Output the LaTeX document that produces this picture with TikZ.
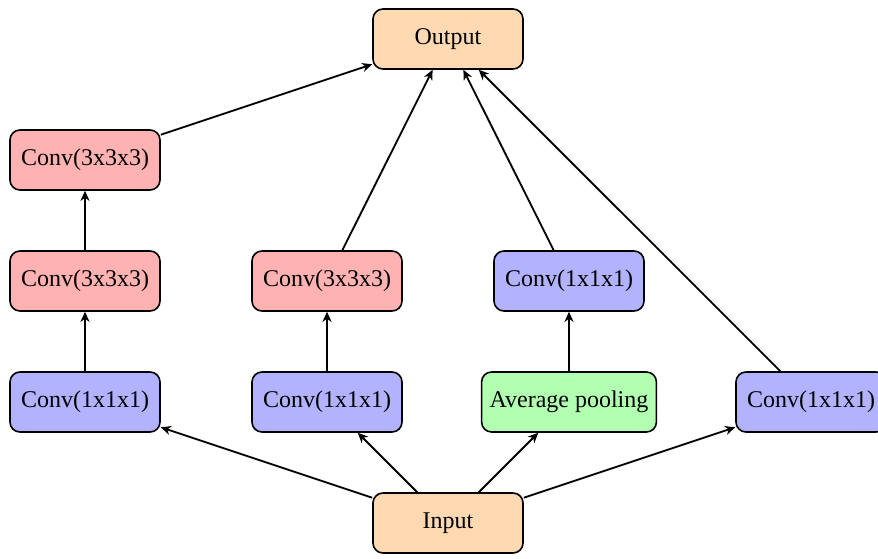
\documentclass[tikz,border=0pt]{standalone}
\usepackage{fontspec}
\setmainfont{Liberation Serif}
\usetikzlibrary{arrows.meta}

\begin{document}
\begin{tikzpicture}[x=60.5pt, y=60.5pt, >={Stealth[length=5pt,width=4.5pt,inset=1.5pt]},
  block/.style={draw, thick, rounded corners=5pt, minimum width=75pt,
    minimum height=30pt, inner xsep=4pt, font=\fontsize{12}{14}\selectfont},
  conv/.style={block, fill=red!30},
  reduce/.style={block, fill=blue!30},
  pool/.style={block, fill=green!30},
  io/.style={block, fill=orange!30},
  flow/.style={->, line width=0.9pt}]

  \useasboundingbox (-42.5pt,-17.5pt) rectangle (396.5pt,261.5pt);

  % Input and output
  \node[io] (input) at (3,0) {Input};
  \node[io] (output) at (3,4) {Output};

  % Branch 1: 1x1x1 then two 3x3x3
  \node[reduce] (b1a) at (0,1) {Conv(1x1x1)};
  \node[conv] (b1b) at (0,2) {Conv(3x3x3)};
  \node[conv] (b1c) at (0,3) {Conv(3x3x3)};

  % Branch 2: 1x1x1 then 3x3x3
  \node[reduce] (b2a) at (2,1) {Conv(1x1x1)};
  \node[conv] (b2b) at (2,2) {Conv(3x3x3)};

  % Branch 3: pooling then 1x1x1
  \node[pool] (b3a) at (4,1) {Average pooling};
  \node[reduce] (b3b) at (4,2) {Conv(1x1x1)};

  % Branch 4: 1x1x1 only
  \node[reduce] (b4a) at (6,1) {Conv(1x1x1)};

  % Input fans out
  \foreach \b in {b1a,b2a,b3a,b4a}
    \draw[flow] (input) -- (\b);

  % Inside the branches
  \draw[flow] (b1a) -- (b1b);
  \draw[flow] (b1b) -- (b1c);
  \draw[flow] (b2a) -- (b2b);
  \draw[flow] (b3a) -- (b3b);

  % Branches join at the output
  \foreach \b in {b1c,b2b,b3b,b4a}
    \draw[flow] (\b) -- (output);

\end{tikzpicture}
\end{document}
